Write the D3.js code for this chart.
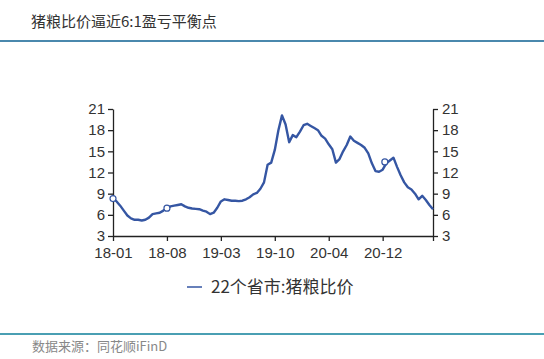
<!DOCTYPE html>
<html>
<head>
<meta charset="utf-8">
<script src="https://cdn.jsdelivr.net/npm/d3@7"></script>
<style>
  body { margin: 0; background: #fff; }
  svg { display: block; font-family: "Noto Sans CJK SC", "Noto Sans", sans-serif; }
</style>
</head>
<body>
<div id="chart"></div>
<script>
/**
 * CONSTANTS AND GLOBALS
 * */
const width = 544,
  height = 359,
  margin = { top: 109, bottom: 123, left: 113, right: 111 };

// category labels shown on the x axis (every 15th weekly point)
const tickLabels = ["18-01", "18-08", "19-03", "19-10", "20-04", "20-12"];
const tickEvery = 15;

// 22个省市:猪粮比价
const ratio = [
  8.3, 7.9, 7.3, 6.6, 5.9, 5.5, 5.3, 5.3, 5.2, 5.3,
  5.6, 6.1, 6.2, 6.3, 6.6, 6.95, 7.2, 7.3, 7.4, 7.5,
  7.2, 7.0, 6.9, 6.85, 6.8, 6.6, 6.45, 6.1, 6.3, 7.0,
  7.9, 8.2, 8.1, 8.0, 8.0, 7.95, 8.0, 8.2, 8.5, 8.9,
  9.1, 9.7, 10.6, 13.1, 13.4, 15.2, 18.0, 20.1, 18.8, 16.3,
  17.3, 17.0, 17.8, 18.7, 18.9, 18.6, 18.3, 18.0, 17.2, 16.8,
  16.0, 15.3, 13.4, 13.9, 15.0, 15.9, 17.1, 16.5, 16.2, 15.9,
  15.5, 14.7, 13.3, 12.2, 12.1, 12.4, 13.3, 13.7, 14.1, 12.8,
  11.6, 10.6, 9.9, 9.6, 9.0, 8.2, 8.7, 8.1, 7.4, 6.8
];

// hollow marker points
const markerIdx = [0, 15, 75.6];
const markerVal = [8.3, 6.95, 13.5];

const yTicks = [3, 6, 9, 12, 15, 18, 21];

let svg;

function init() {
  svg = d3.select("#chart")
    .append("svg")
    .attr("width", width)
    .attr("height", height);

  // title + rules
  svg.append("text")
    .attr("x", 31).attr("y", 27)
    .attr("font-size", 15)
    .attr("fill", "#333")
    .text("猪粮比价逼近6:1盈亏平衡点");
  svg.append("rect")
    .attr("x", 0).attr("y", 40).attr("width", width).attr("height", 2)
    .attr("fill", "#4a88ad");
  svg.append("rect")
    .attr("x", 0).attr("y", 333).attr("width", width).attr("height", 2)
    .attr("fill", "#4a9fb3");
  svg.append("text")
    .attr("x", 32).attr("y", 351)
    .attr("font-size", 13)
    .attr("fill", "#888")
    .text("数据来源：同花顺iFinD");

  const x = d3.scaleLinear()
    .domain([0, ratio.length - 1])
    .range([margin.left, width - margin.right]);
  const y = d3.scaleLinear()
    .domain([3, 21])
    .range([height - margin.bottom, margin.top]);

  const xAxis = d3.axisBottom(x)
    .tickValues(d3.range(0, ratio.length, tickEvery).concat([ratio.length - 1]))
    .tickFormat(d => tickLabels[d / tickEvery] || "")
    .tickSize(5)
    .tickSizeOuter(0);

  const gx = svg.append("g")
    .attr("transform", `translate(0,${height - margin.bottom})`)
    .call(xAxis);
  gx.selectAll("text").attr("font-size", 15).attr("fill", "#333").attr("dy", "0.95em");

  const gl = svg.append("g")
    .attr("transform", `translate(${margin.left},0)`)
    .call(d3.axisLeft(y).tickValues(yTicks).tickSize(5).tickSizeOuter(0));
  gl.selectAll("text").attr("font-size", 15).attr("fill", "#333").attr("x", -8);

  const gr = svg.append("g")
    .attr("transform", `translate(${width - margin.right},0)`)
    .call(d3.axisRight(y).tickValues(yTicks).tickSize(5).tickSizeOuter(0));
  gr.selectAll("text").attr("font-size", 15).attr("fill", "#333").attr("x", 9);

  svg.selectAll(".domain, .tick line").attr("stroke", "#222").attr("stroke-width", 1.3);

  const line = d3.line()
    .x((d, i) => x(i))
    .y(d => y(d));

  svg.append("path")
    .datum(ratio)
    .attr("d", line)
    .attr("fill", "none")
    .attr("stroke", "#3556a3")
    .attr("stroke-width", 2.4)
    .attr("stroke-linejoin", "round");

  svg.selectAll("circle.mark")
    .data(markerIdx)
    .join("circle")
    .attr("class", "mark")
    .attr("cx", d => x(d))
    .attr("cy", (d, i) => y(markerVal[i]))
    .attr("r", 3)
    .attr("fill", "#fff")
    .attr("stroke", "#3556a3")
    .attr("stroke-width", 1.2);

  // legend
  svg.append("line")
    .attr("x1", 187).attr("x2", 202).attr("y1", 287).attr("y2", 287)
    .attr("stroke", "#3556a3").attr("stroke-width", 1.5);
  svg.append("text")
    .attr("x", 211).attr("y", 293)
    .attr("font-size", 17)
    .attr("fill", "#333")
    .text("22个省市:猪粮比价");
}

init();
</script>
</body>
</html>
